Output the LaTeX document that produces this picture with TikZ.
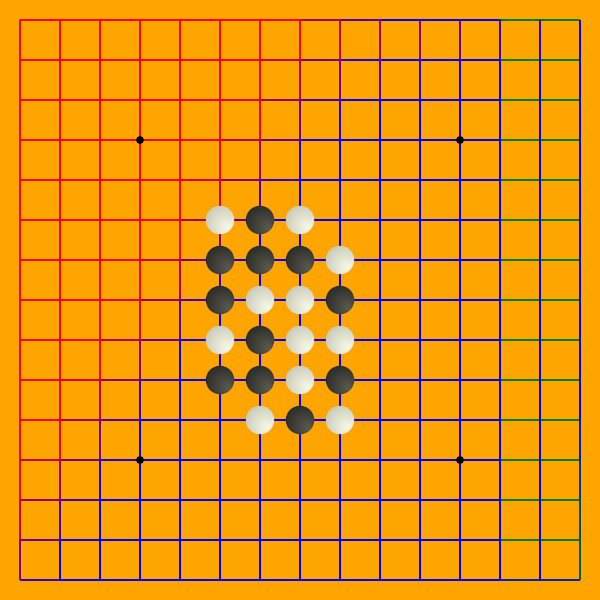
\documentclass[tikz,border=0pt]{standalone}
\definecolor{boardorange}{RGB}{255,165,0}
\definecolor{gridgreen}{RGB}{0,128,0}
\pgfdeclareradialshading{whitestone}{\pgfpoint{14bp}{-14bp}}{rgb(0bp)=(0.97,0.97,0.90); rgb(12bp)=(0.92,0.92,0.85); rgb(36bp)=(0.79,0.79,0.73); rgb(68bp)=(0.66,0.66,0.60)}
\pgfdeclareradialshading{blackstone}{\pgfpoint{14bp}{-14bp}}{rgb(0bp)=(0.36,0.36,0.32); rgb(12bp)=(0.29,0.29,0.26); rgb(36bp)=(0.17,0.17,0.15); rgb(68bp)=(0.10,0.10,0.09)}
\begin{document}
\begin{tikzpicture}[x=1cm,y=-1cm,line width=.75pt,
  wstone/.style={shading=whitestone},
  bstone/.style={shading=blackstone}]
	\fill[boardorange] (-.5,-.5) rectangle (14.5,14.5);
	\foreach \r in {0,...,14}{
		\foreach \c in {0,...,13}{
			\pgfmathsetmacro\p{min(100,max(0,50+33*(8-0.6*\r-\c-0.5)))}
			\pgfmathsetmacro\g{\c<12 ? 0 : (\r<14 ? 100 : 25)}
			\colorlet{hseg}{red!\p!blue}
			\draw[gridgreen!\g!hseg] (\c,\r) -- (\c+1,\r);
		}
	}
	\foreach \c in {0,...,14}{
		\foreach \r in {0,...,13}{
			\pgfmathsetmacro\t{max(13.5-1.6*\c,1-0.4*(\c-9))}
			\pgfmathsetmacro\p{min(100,max(0,50+33*(\t-\r-0.5)))}
			\pgfmathsetmacro\g{\c==14 ? min(70,max(0,20*(\r-9))) : 0}
			\colorlet{vseg}{red!\p!blue}
			\draw[gridgreen!\g!vseg] (\c,\r) -- (\c,\r+1);
		}
	}
	\foreach \x/\y in {3/3,11/3,3/11,11/11}
		\fill (\x,\y) circle (.1);
	\foreach \x/\y in {5/5,7/5,8/6,6/7,7/7,5/8,7/8,8/8,7/9,6/10,8/10}
		\shade[wstone] (\x,\y) circle (.355);
	\foreach \x/\y in {6/5,5/6,6/6,7/6,5/7,8/7,6/8,5/9,6/9,8/9,7/10}
		\shade[bstone] (\x,\y) circle (.355);
\end{tikzpicture}
\end{document}
